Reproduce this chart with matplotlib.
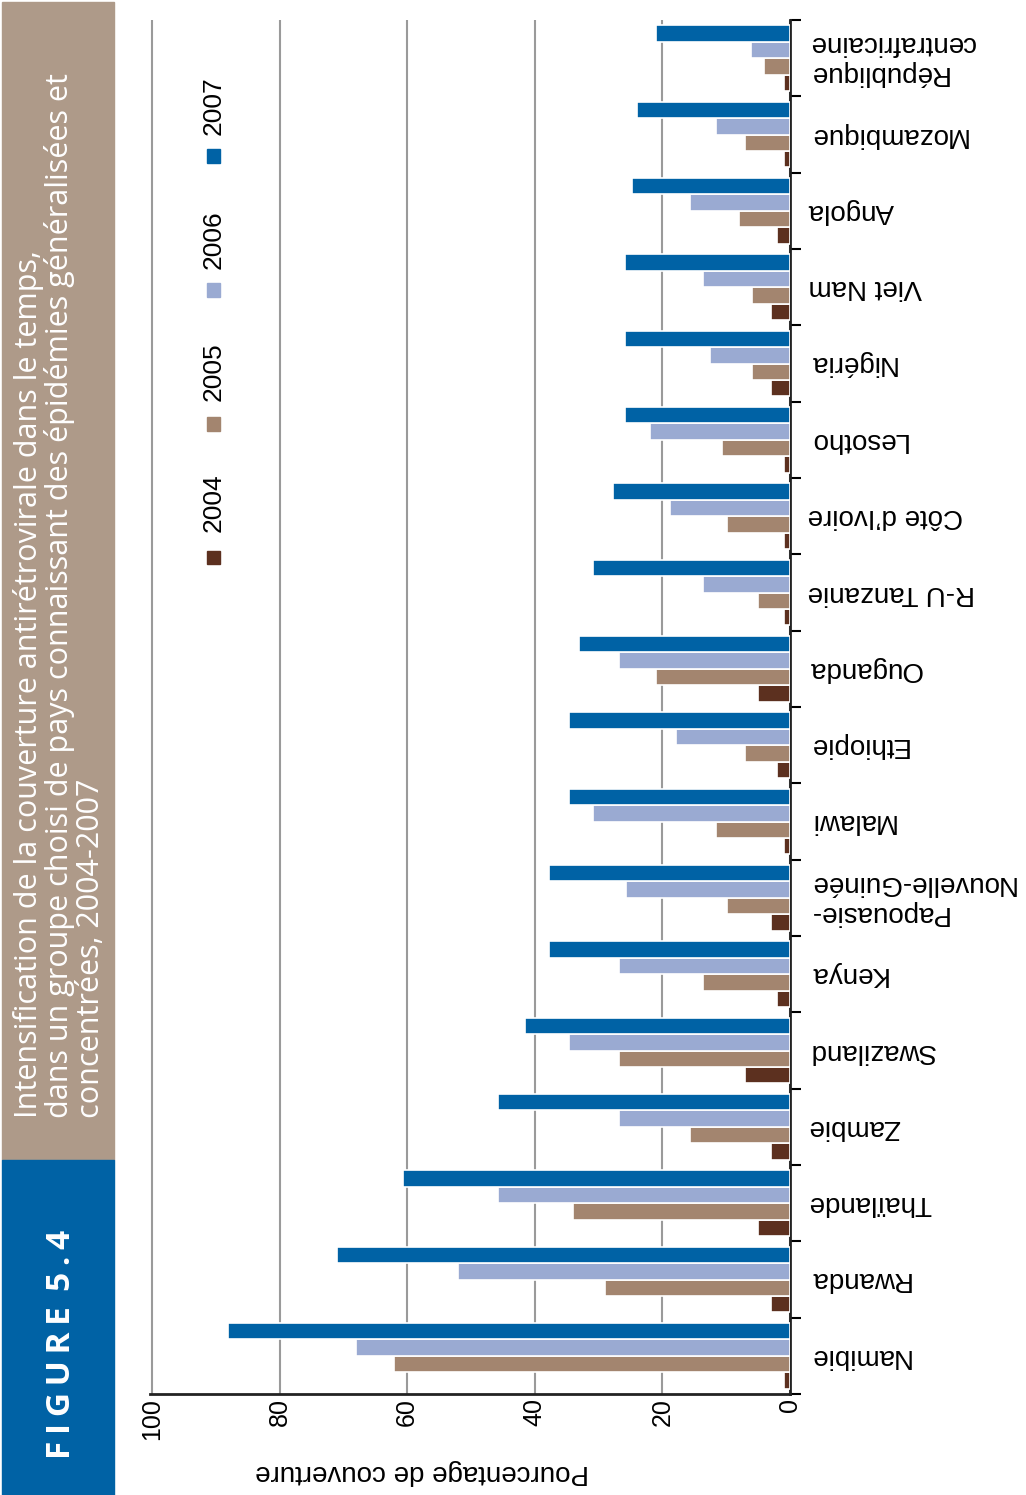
import matplotlib
matplotlib.use('Agg')
import matplotlib.pyplot as plt
from matplotlib.patches import Rectangle
import numpy as np

plt.rcParams['font.family'] = ['Liberation Sans', 'DejaVu Sans']

countries = ['République\ncentrafricaine', 'Mozambique', 'Angola', 'Viet Nam', 'Nigéria',
             'Lesotho', 'Côte d’Ivoire', 'R-U Tanzanie', 'Ouganda', 'Ethiopie', 'Malawi',
             'Papouasie-\nNouvelle-Guinée', 'Kenya', 'Swaziland', 'Zambie', 'Thaïlande',
             'Rwanda', 'Namibie']
years = ['2004', '2005', '2006', '2007']
v2004 = [1, 1, 2, 3, 3, 1, 1, 1, 5, 2, 1, 3, 2, 7, 3, 5, 3, 1]
v2005 = [4, 7, 8, 6, 6, 10.6, 9.9, 5, 21, 7, 11.6, 9.9, 13.7, 26.8, 15.7, 34, 29, 62]
v2006 = [6.1, 11.6, 15.7, 13.7, 12.6, 21.9, 18.8, 13.7, 26.8, 17.8, 30.9, 25.7, 26.8, 34.7,
         26.8, 45.7, 52, 68]
v2007 = [21, 24, 24.7, 25.8, 25.8, 25.8, 27.8, 30.9, 33, 34.7, 34.7, 37.8, 37.8, 41.6, 45.7,
         60.6, 71, 88]
colors = {'2004': '#5c301f', '2005': '#a3856f', '2006': '#9aaad2', '2007': '#0062a5'}
values = {'2004': v2004, '2005': v2005, '2006': v2006, '2007': v2007}

title = ('Intensification de la couverture antirétrovirale dans le temps,\n'
         'dans un groupe choisi de pays connaissant des épidémies généralisées et\n'
         'concentrées, 2004-2007')

W, H = 1026, 1495
fig = plt.figure(figsize=(W / 100, H / 100), dpi=100)


def fx(px):
    return px / W


def fy(py):
    return 1 - py / H


# side band with figure number and title
fig.patches.append(Rectangle((fx(2), fy(1160)), fx(112), fy(2) - fy(1160),
                             transform=fig.transFigure, color='#ae9a89', zorder=0))
fig.patches.append(Rectangle((fx(2), 0), fx(112), fy(1160),
                             transform=fig.transFigure, color='#0062a5', zorder=0))
fig.text(fx(13), fy(1118), title, rotation=90, rotation_mode='anchor', ha='left', va='top',
         color='white', fontsize=22, linespacing=1.02, family=['Open Sans', 'DejaVu Sans'])
fig.text(fx(61), fy(1344), 'F\u2009I\u2009G\u2009U\u2009R\u2009E\u2009 5\u2009.\u20094',
         rotation=90, ha='center', va='center', color='white', fontsize=24,
         fontweight='bold', family=['Open Sans', 'DejaVu Sans'])

ax = fig.add_axes([fx(150), fy(1394), fx(790) - fx(150), fy(20) - fy(1394)])

n = len(countries)
y = np.arange(n)
h = 0.215
offsets = {'2007': -1.5 * h, '2006': -0.5 * h, '2005': 0.5 * h, '2004': 1.5 * h}
for yr in years:
    ax.barh(y + offsets[yr], values[yr], height=h, color=colors[yr],
            edgecolor='white', linewidth=1.2, zorder=3)

ax.set_xlim(100.3, 0)
ax.set_ylim(n - 0.5, -0.5)
ax.set_axisbelow(True)
ax.grid(axis='x', color='#9a9a9a', linewidth=1.5)

for s in ['top', 'left']:
    ax.spines[s].set_visible(False)
for s in ['right', 'bottom']:
    ax.spines[s].set_linewidth(2)
    ax.spines[s].set_color('#222222')

ax.set_xticks([0, 20, 40, 60, 80, 100])
ax.set_xticklabels(['0', '20', '40', '60', '80', '100'], rotation=90, fontsize=18)
ax.tick_params(axis='x', length=0, pad=3)

ax.yaxis.set_ticks_position('right')
ax.set_yticks(np.arange(-0.5, n), minor=False)
ax.set_yticklabels([], minor=False)
ax.set_yticks(y, minor=True)
ax.set_yticklabels(countries, minor=True, rotation=180, ha='left', va='center',
                   multialignment='right', fontsize=20)
ax.tick_params(axis='y', which='major', length=8, width=1.5, direction='out')
ax.tick_params(axis='y', which='minor', length=0, pad=13)

ax.set_xlabel('Pourcentage de couverture', rotation=180, fontsize=20, va='center')
ax.xaxis.set_label_coords(0.425, -0.057)

# legend, drawn vertically like the source
leg = {'2007': (156, 106), '2006': (290, 240), '2005': (424, 372), '2004': (557, 503)}
for yr in years:
    sq, tx = leg[yr]
    fig.patches.append(Rectangle((fx(207), fy(sq + 6.5)), fx(13), fy(sq - 6.5) - fy(sq + 6.5),
                                 transform=fig.transFigure, color=colors[yr]))
    fig.text(fx(214), fy(tx), yr, rotation=90, ha='center', va='center', fontsize=19)

fig.savefig('out.png', dpi=100)
